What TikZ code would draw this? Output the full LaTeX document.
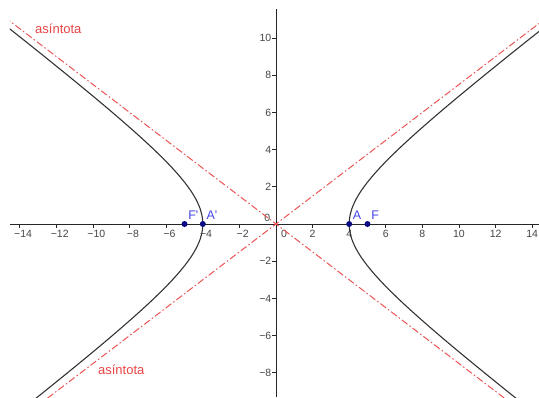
\documentclass[tikz,border=0pt]{standalone}
\usepackage{fontspec}
\setmainfont{Liberation Sans}
\definecolor{asymred}{RGB}{236,84,84}
\definecolor{lblred}{RGB}{232,70,70}
\definecolor{ptblue}{RGB}{10,10,130}
\definecolor{lblblue}{RGB}{70,70,235}
\definecolor{ticktxt}{RGB}{70,70,70}
\begin{document}
\begin{tikzpicture}[x=18.3pt,y=18.6pt,
  axisline/.style={draw=black!85,line width=0.9pt},
  tickmark/.style={draw=black!85,line width=0.8pt},
  ticklbl/.style={font=\fontsize{10.5}{12}\selectfont,text=ticktxt,inner sep=0pt},
  asym/.style={draw=asymred,line width=1pt,dash pattern=on 7pt off 2.5pt on 1.5pt off 2.5pt},
  curve/.style={draw=black!80,line width=1.1pt},
  pt/.style={circle,fill=ptblue,inner sep=0pt,minimum size=6pt},
  ptlbl/.style={font=\fontsize{12.5}{14}\selectfont,text=lblblue,inner sep=0pt,anchor=base west},
  asymlbl/.style={font=\fontsize{13}{15}\selectfont,text=lblred,inner sep=0pt,anchor=west}
]
\useasboundingbox[fill=white] (-15.082,-9.301) rectangle (14.372,12.043);
% axes
\coordinate (xl) at (-14.536,0);
\coordinate (xr) at (14.372,0);
\coordinate (yb) at (0,-9.301);
\coordinate (yt) at (0,11.559);
\draw[axisline] (xl) -- (xr);
\draw[axisline] (yb) -- (yt);
% x ticks
\foreach \k in {2,4,...,14} {
  \draw[tickmark] (\k,0) -- ++(0,-3.5pt);
  \node[ticklbl,anchor=north] (xp\k) at ([yshift=-5.6pt]\k,0) {\k};
}
\foreach \k in {2,4,...,14} {
  \draw[tickmark] (-\k,0) -- ++(0,-3.5pt);
  \node[ticklbl,anchor=north] (xn\k) at ([xshift=3.3pt,yshift=-5.6pt]-\k,0) {−\k};
}
% y ticks
\foreach \k in {2,4,...,10} {
  \draw[tickmark] (0,\k) -- ++(-3.5pt,0);
  \node[ticklbl,anchor=east] (yp\k) at ([xshift=-4.5pt]0,\k) {\k};
}
\foreach \k in {2,4,6,8} {
  \draw[tickmark] (0,-\k) -- ++(-3.5pt,0);
  \node[ticklbl,anchor=east] (yn\k) at ([xshift=-4.5pt]0,-\k) {−\k};
}
\node[ticklbl] (zx) at (0.437,-0.554) {0};
\node[ticklbl] (zy) at (-0.475,0.339) {0};
% curves clipped to the view
\begin{scope}
\clip (-14.536,-9.301) rectangle (14.372,11.559);
\draw[asym] (-16,-12) -- (16,12);
\draw[asym] (-16,12) -- (16,-12);
\draw[curve] plot[domain=-2.3:2.3,samples=120,variable=\t] ({4*cosh(\t)},{3*sinh(\t)});
\draw[curve] plot[domain=-2.3:2.3,samples=120,variable=\t] ({-4*cosh(\t)},{3*sinh(\t)});
\end{scope}
% labels of asymptotes
\node[asymlbl] (as1) at (-13.17,10.5) {asíntota};
\node[asymlbl] (as2) at (-9.73,-7.85) {asíntota};
% points
\node[pt] (F) at (5,0) {};
\node[pt] (A) at (4,0) {};
\node[pt] (A2) at (-4,0) {};
\node[pt] (F2) at (-5,0) {};
\node[ptlbl] (Fl) at ([shift={(3.6pt,5pt)}]F.center) {F};
\node[ptlbl] (Al) at ([shift={(3.6pt,5pt)}]A.center) {A};
\node[ptlbl] (A2l) at ([shift={(3.6pt,5pt)}]A2.center) {A\textquotesingle};
\node[ptlbl] (F2l) at ([shift={(3.6pt,5pt)}]F2.center) {F\textquotesingle};
\end{tikzpicture}
\end{document}
